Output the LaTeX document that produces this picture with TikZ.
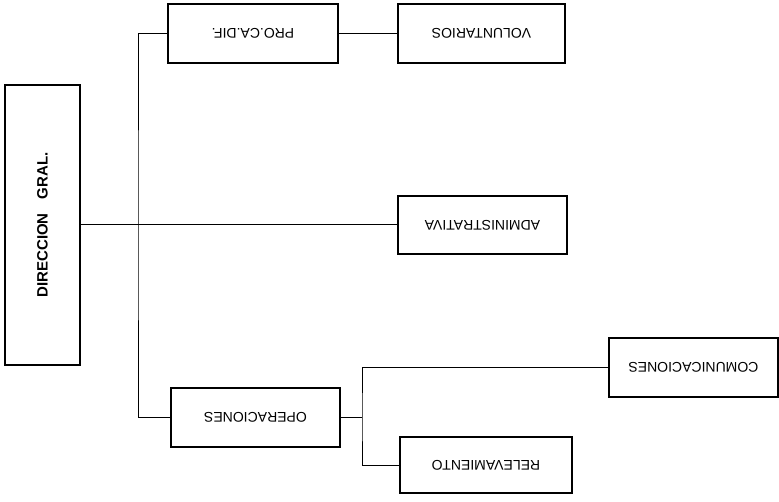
\documentclass[tikz,border=0pt]{standalone}
\usepackage{fontspec}
\setmainfont{Liberation Sans}
\usepackage{graphicx}
\tikzset{
    unidad/.style={draw=black, line width=1.8pt, minimum width=#1, inner sep=0pt, font=\fontsize{14}{16}\selectfont},
    linea/.style={black, line width=1pt}
}
\newcommand{\alreves}[1]{\rotatebox{180}{#1}}

\begin{document}
\begin{tikzpicture}[x=1pt, y=-1pt]
        \useasboundingbox (0,0) rectangle (779,502);

        \node [unidad=75, minimum height=280, font=\fontsize{15}{17}\selectfont\bfseries] (dir) at (42.5,225) {\rotatebox{90}{DIRECCION\hspace{14pt}GRAL.}};

        \node [unidad=170, minimum height=59] (pro) at (253,33.5) {\alreves{PRO.CA.DIF.}};
        \node [unidad=167, minimum height=59] (vol) at (481.5,33.5) {\alreves{VOLUNTARIOS}};
        \node [unidad=169, minimum height=58] (adm) at (482.5,225) {\alreves{ADMINISTRATIVA}};
        \node [unidad=169, minimum height=59] (ope) at (255.5,417.5) {\alreves{OPERACIONES}};
        \node [unidad=169, minimum height=59] (com) at (693.5,367.5) {\alreves{COMUNICACIONES}};
        \node [unidad=172, minimum height=56] (rel) at (486,465) {\alreves{RELEVAMIENTO}};

        \coordinate (tronco) at (138,225);
        \coordinate (rama) at (362,417.5);

        \draw [linea] (dir.east) -- (adm.west);
        \draw [linea] (pro.west) -| (tronco) |- (ope.west);
        \draw [linea] (pro.east) -- (vol.west);
        \draw [linea] (ope.east) -- (rama);
        \draw [linea] (com.west) -| (rama) |- (rel.west);
    \end{tikzpicture}
\end{document}
